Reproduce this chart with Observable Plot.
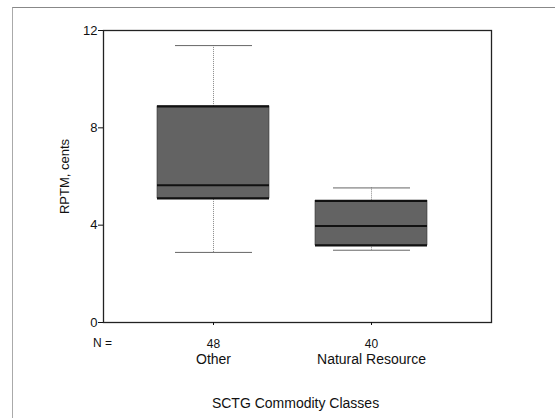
<!DOCTYPE html>
<html><head><meta charset="utf-8">
<script src="https://cdn.jsdelivr.net/npm/d3@7"></script>
<script src="https://cdn.jsdelivr.net/npm/@observablehq/plot@0.6"></script>
<style>
body{margin:0;background:#fff}
#wrap{position:relative;width:555px;height:418px;overflow:hidden}
#border{position:absolute;left:12px;top:7px;width:600px;height:500px;border-left:1px solid #aaa;border-top:1px solid #888;pointer-events:none}
#chart{position:absolute;left:0;top:0}
</style></head><body><div id="wrap"><div id="chart"></div><div id="border"></div></div>
<script>
const categories = ["Other", "Natural Resource"];
const counts = [48, 40];
const whiskerLow = [2.88, 2.97];
const q1 = [5.1, 3.17];
const median = [5.64, 3.97];
const q3 = [8.88, 5.0];
const whiskerHigh = [11.38, 5.53];
const yTicks = [0, 4, 8, 12];
const yLabel = "RPTM, cents";
const xLabel = "SCTG Commodity Classes";
const nLabel = "N =";

const data = categories.map((c, i) => ({
  cat: c, n: counts[i], lo: whiskerLow[i], q1: q1[i], med: median[i], q3: q3[i], hi: whiskerHigh[i]
}));

const font = "'Liberation Sans', Arial, sans-serif";

const chart = Plot.plot({
  width: 555,
  height: 418,
  marginLeft: 103,
  marginRight: 64,
  marginTop: 30,
  marginBottom: 96,
  style: {fontFamily: font, fontSize: "12px", color: "#111", background: "transparent"},
  x: {type: "band", domain: categories, range: [110.3, 473.3], padding: 0.29},
  y: {domain: [0, 12]},
  marks: [
    Plot.ruleX(data, {x: "cat", y1: "q3", y2: "hi", stroke: "#888", strokeDasharray: "1,1"}),
    Plot.ruleX(data, {x: "cat", y1: "lo", y2: "q1", stroke: "#888", strokeDasharray: "1,1"}),
    Plot.tickY(data, {x: "cat", y: "hi", stroke: "#666", insetLeft: 18, insetRight: 17}),
    Plot.tickY(data, {x: "cat", y: "lo", stroke: "#666", insetLeft: 18, insetRight: 17}),
    Plot.barY(data, {x: "cat", y1: "q1", y2: "q3", fill: "#636363", stroke: "#333", strokeWidth: 0.6}),
    Plot.tickY(data, {x: "cat", y: "q3", stroke: "#111", strokeWidth: 2.2}),
    Plot.tickY(data, {x: "cat", y: "q1", stroke: "#111", strokeWidth: 2.2}),
    Plot.tickY(data, {x: "cat", y: "med", stroke: "#111", strokeWidth: 2}),
    Plot.frame({stroke: "#222", strokeWidth: 1.3}),
    Plot.axisY({ticks: yTicks, tickSize: 5, tickPadding: 1, label: null, fontSize: 13}),
    Plot.axisX({tickFormat: d => counts[categories.indexOf(d)], tickSize: 3, tickPadding: 14, label: null, fontSize: 12}),
    Plot.axisX({tickSize: 0, tickPadding: 32, label: null, fontSize: 14}),
    Plot.text([nLabel], {frameAnchor: "bottom-left", dy: 21, dx: -1, textAnchor: "middle", lineAnchor: "middle", fontSize: 12}),
    Plot.text([yLabel], {frameAnchor: "left", dx: -39, rotate: -90, lineAnchor: "middle", textAnchor: "middle", fontSize: 13}),
    Plot.text([xLabel], {frameAnchor: "bottom", dy: 81, dx: -2, lineAnchor: "middle", textAnchor: "middle", fontSize: 14})
  ]
});
document.getElementById("chart").appendChild(chart);
</script>
</body></html>
